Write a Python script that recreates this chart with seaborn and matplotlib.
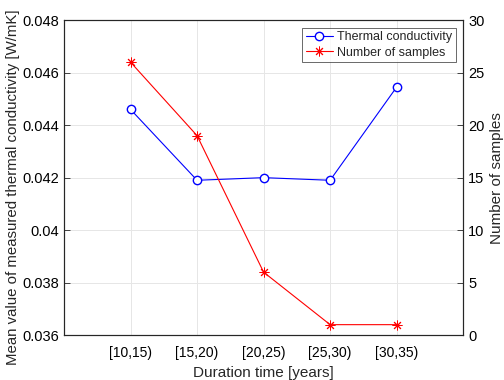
import numpy as np
import pandas as pd
import seaborn as sns
import matplotlib.pyplot as plt

# data
durations = ['[10,15)', '[15,20)', '[20,25)', '[25,30)', '[30,35)']
thermal_cond = [0.0446, 0.0419, 0.0420, 0.0419, 0.04545]
n_samples = [26, 19, 6, 1, 1]

df = pd.DataFrame({'pos': np.arange(1, 6), 'k': thermal_cond, 'n': n_samples})

sns.set_style('white')
plt.rcParams['font.family'] = ['Liberation Sans', 'DejaVu Sans']
plt.rcParams['font.size'] = 10.5

edge = '#262626'
fig = plt.figure(figsize=(5.04, 3.8), dpi=100)
ax = fig.add_axes([0.127, 0.118, 0.792, 0.829])
ax2 = ax.twinx()

sns.lineplot(data=df, x='pos', y='k', ax=ax, color='blue', marker='o',
             markersize=6, markerfacecolor='white', markeredgecolor='blue',
             markeredgewidth=1, lw=0.8, label='Thermal conductivity', legend=False)
sns.lineplot(data=df, x='pos', y='n', ax=ax2, color='red', marker=(8, 2, 0),
             markersize=7, markeredgecolor='red', markeredgewidth=0.7,
             lw=0.8, label='Number of samples', legend=False)

ax.set_xlim(0, 6)
ax.set_ylim(0.036, 0.048)
ax2.set_ylim(0, 30)
ax.set_xticks(df['pos'])
ax.set_xticklabels(durations)
ax.set_yticks(np.arange(0.036, 0.0481, 0.002))
ax.set_yticklabels(['0.036', '0.038', '0.04', '0.042', '0.044', '0.046', '0.048'])
ax2.set_yticks(np.arange(0, 31, 5))

ax.grid(True, color='#e6e6e6', lw=0.7)
ax.set_axisbelow(True)
for a in (ax, ax2):
    for s in a.spines.values():
        s.set_color(edge)
        s.set_linewidth(0.8)
    a.tick_params(direction='in', length=4, width=0.6, colors=edge,
                  labelcolor='black', labelsize=10.5)
ax.tick_params(axis='x', pad=8, labelsize=10)

ax.set_xlabel('Duration time [years]', fontsize=11)
ax.set_ylabel('Mean value of measured thermal conductivity [W/mK]',
              fontsize=10.8)
ax.yaxis.set_label_coords(-0.11, 0.47)
ax2.set_ylabel('Number of samples', fontsize=11)

h1, l1 = ax.get_legend_handles_labels()
h2, l2 = ax2.get_legend_handles_labels()
leg = ax2.legend(h1 + h2, l1 + l2, loc='upper right', fontsize=9,
                 frameon=True, fancybox=False, borderpad=0.3,
                 labelspacing=0.25, handlelength=2.2, handletextpad=0.3,
                 borderaxespad=0.6)
leg.get_frame().set_edgecolor(edge)
leg.get_frame().set_linewidth(0.6)

fig.savefig('out.png', dpi=100)
